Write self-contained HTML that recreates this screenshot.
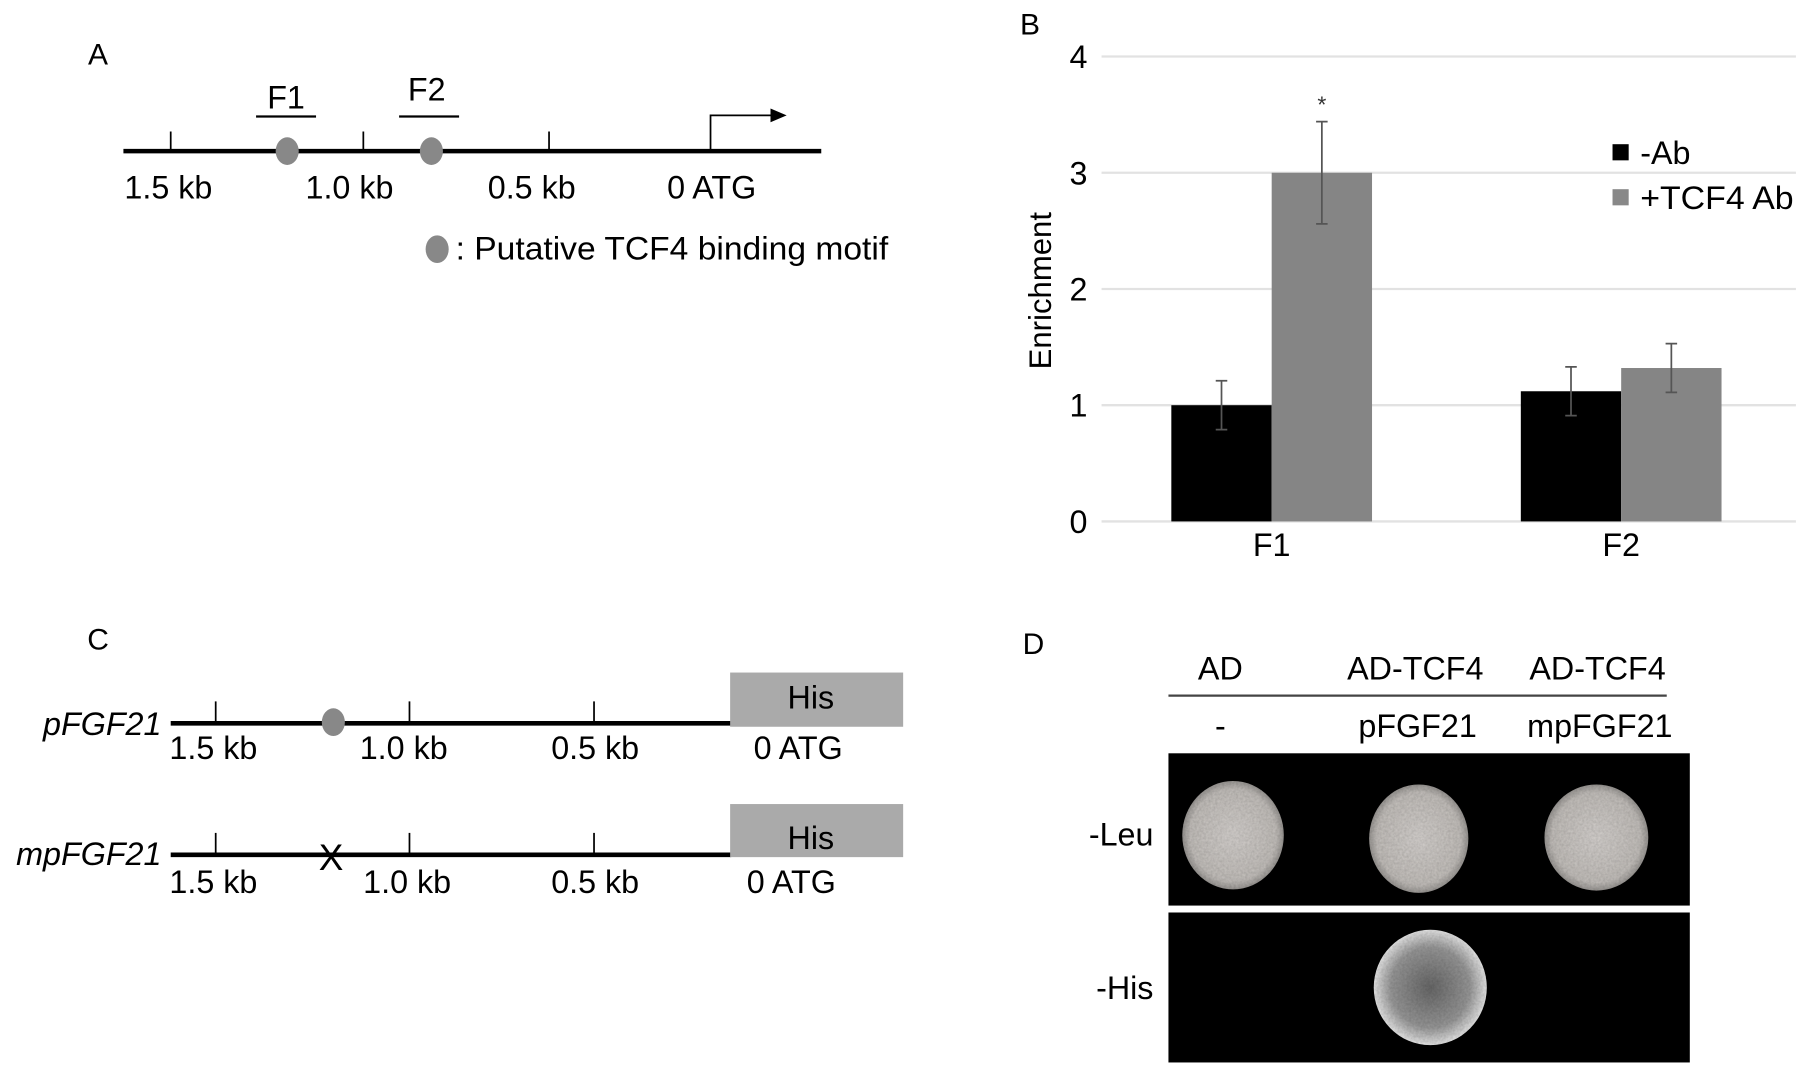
<!DOCTYPE html>
<html><head><meta charset="utf-8"><style>
html,body{margin:0;padding:0;background:#fff;}
svg{display:block;font-family:"Liberation Sans",Arial,sans-serif;}
</style></head><body>
<svg id="fig" width="1804" height="1074" viewBox="0 0 1564 931" preserveAspectRatio="none">
<defs>
<radialGradient id="colL" cx="50%" cy="50%" r="50%"><stop offset="0" stop-color="#d6d2cf"/><stop offset="0.85" stop-color="#c4c0bc"/><stop offset="1" stop-color="#9a9794"/></radialGradient>
<radialGradient id="colH" cx="50%" cy="50%" r="50%"><stop offset="0" stop-color="#6a6a6a"/><stop offset="0.7" stop-color="#9a9a9a"/><stop offset="1" stop-color="#e8e8e8"/></radialGradient>
<filter id="grain"><feTurbulence type="fractalNoise" baseFrequency="0.5" numOctaves="2" result="n"/><feColorMatrix in="n" type="matrix" values="0 0 0 0 0  0 0 0 0 0  0 0 0 0 0  0 0 0 0.35 0" result="d"/><feComposite in="d" in2="SourceGraphic" operator="in" result="dd"/><feMerge><feMergeNode in="SourceGraphic"/><feMergeNode in="dd"/></feMerge></filter>
</defs>

<!-- Panel A -->
<g>
<text x="85" y="56" font-size="26" text-anchor="middle">A</text>
<line x1="107" y1="131" x2="712" y2="131" stroke="#000" stroke-width="4"/>
<g stroke="#000" stroke-width="1.5">
<line x1="148" y1="114" x2="148" y2="131"/><line x1="315" y1="114" x2="315" y2="131"/><line x1="476" y1="114" x2="476" y2="131"/>
</g>
<path d="M616 131 V100 H672" fill="none" stroke="#000" stroke-width="1.5"/>
<polygon points="682,100 668,94 668,106" fill="#000"/>
<ellipse cx="249" cy="131" rx="10" ry="12" fill="#888"/>
<ellipse cx="374" cy="131" rx="10" ry="12" fill="#888"/>
<line x1="222" y1="101" x2="274" y2="101" stroke="#000" stroke-width="2"/>
<line x1="346" y1="101" x2="398" y2="101" stroke="#000" stroke-width="2"/>
<text x="248" y="94" font-size="28" text-anchor="middle">F1</text>
<text x="370" y="87" font-size="28" text-anchor="middle">F2</text>
<g font-size="28" text-anchor="middle">
<text x="146" y="172">1.5 kb</text><text x="303" y="172">1.0 kb</text><text x="461" y="172">0.5 kb</text><text x="617" y="172">0 ATG</text>
</g>
<ellipse cx="379" cy="216" rx="10" ry="12" fill="#888"/>
<text x="395" y="225" font-size="28" textLength="375" lengthAdjust="spacingAndGlyphs">: Putative TCF4 binding motif</text>
</g>

<!-- Panel B -->
<g id="chartB">
<text x="893" y="30" font-size="26" text-anchor="middle">B</text>
<text transform="translate(911,252) rotate(-90)" font-size="27" text-anchor="middle">Enrichment</text>
<g>
<rect x="1398" y="125" width="14" height="14" fill="#000"/><text x="1422" y="142" font-size="28">-Ab</text>
<rect x="1398" y="164" width="14" height="14" fill="#888"/><text x="1422" y="181" font-size="28" textLength="133" lengthAdjust="spacingAndGlyphs">+TCF4 Ab</text>
</g>
</g>

<!-- Panel C -->
<g>
<text x="85" y="563" font-size="26" text-anchor="middle">C</text>
<g>
<text x="140" y="637" font-size="28" font-style="italic" text-anchor="end">pFGF21</text>
<line x1="148" y1="627" x2="634" y2="627" stroke="#000" stroke-width="4"/>
<g stroke="#000" stroke-width="1.5"><line x1="187" y1="608" x2="187" y2="627"/><line x1="355" y1="608" x2="355" y2="627"/><line x1="515" y1="608" x2="515" y2="627"/></g>
<ellipse cx="289" cy="626" rx="10" ry="12" fill="#888"/>
<rect x="633" y="583" width="150" height="47" fill="#aaa"/>
<text x="703" y="614" font-size="28" text-anchor="middle">His</text>
<g font-size="28" text-anchor="middle"><text x="185" y="658">1.5 kb</text><text x="350" y="658">1.0 kb</text><text x="516" y="658">0.5 kb</text><text x="692" y="658">0 ATG</text></g>
</g>
<g>
<text x="140" y="750" font-size="28" font-style="italic" text-anchor="end">mpFGF21</text>
<line x1="148" y1="741" x2="634" y2="741" stroke="#000" stroke-width="4"/>
<g stroke="#000" stroke-width="1.5"><line x1="187" y1="722" x2="187" y2="741"/><line x1="355" y1="722" x2="355" y2="741"/><line x1="515" y1="722" x2="515" y2="741"/></g>
<text x="287" y="754" font-size="32" text-anchor="middle">X</text>
<rect x="633" y="697" width="150" height="46" fill="#aaa"/>
<text x="703" y="736" font-size="28" text-anchor="middle">His</text>
<g font-size="28" text-anchor="middle"><text x="185" y="774">1.5 kb</text><text x="353" y="774">1.0 kb</text><text x="516" y="774">0.5 kb</text><text x="686" y="774">0 ATG</text></g>
</g>
</g>

<!-- Panel D -->
<g>
<text x="896" y="567" font-size="26" text-anchor="middle">D</text>
<g font-size="28" text-anchor="middle">
<text x="1058" y="589">AD</text><text x="1227" y="589">AD-TCF4</text><text x="1385" y="589">AD-TCF4</text>
<text x="1058" y="639">-</text><text x="1229" y="639">pFGF21</text><text x="1387" y="639">mpFGF21</text>
</g>
<line x1="1013" y1="603" x2="1445" y2="603" stroke="#444" stroke-width="2"/>
<text x="1000" y="733" font-size="28" text-anchor="end">-Leu</text>
<text x="1000" y="866" font-size="28" text-anchor="end">-His</text>
<rect x="1013" y="653" width="452" height="132" fill="#000"/>
<rect x="1013" y="791" width="452" height="130" fill="#000"/>
<g filter="url(#grain)">
<ellipse cx="1069" cy="724" rx="44" ry="47" fill="url(#colL)"/>
<ellipse cx="1230" cy="727" rx="43" ry="47" fill="url(#colL)"/>
<ellipse cx="1384" cy="726" rx="45" ry="46" fill="url(#colL)"/>
<ellipse cx="1240" cy="856" rx="49" ry="50" fill="url(#colH)"/>
<ellipse cx="1087" cy="855" rx="44" ry="46" fill="#0b0b0b"/>
<ellipse cx="1396" cy="859" rx="45" ry="46" fill="#0b0b0b"/>
</g>
</g>

<script>
const categories = ["F1", "F2"];
const seriesNames = ["-Ab", "+TCF4 Ab"];
const valuesAb = [1.0, 1.12];
const valuesTcf4 = [3.0, 1.32];
const errAb = [0.21, 0.21];
const errTcf4 = [0.44, 0.21];
const yTicks = [0, 1, 2, 3, 4];
const sigMarks = ["*", ""];

const NS = "http://www.w3.org/2000/svg";
const g = document.getElementById("chartB");
const y0 = 452, yTop = 49, yMax = 4;
function yScale(v){ return y0 - (v / yMax) * (y0 - yTop); }
const gridLeft = 955, plotLeft = 951, plotRight = 1557;
const groupW = (plotRight - plotLeft) / categories.length;
const barW = 87;
function groupCenter(i){ return plotLeft + groupW * (i + 0.5); }
function mk(tag, attrs){ const e = document.createElementNS(NS, tag); for (const k in attrs) e.setAttribute(k, attrs[k]); g.appendChild(e); return e; }

yTicks.forEach(t => {
  const gl = mk("line", {x1: gridLeft, x2: plotRight, y1: yScale(t), y2: yScale(t), stroke: "#e2e2e2", "stroke-width": 2});
  
  
  const tl = mk("text", {x: 935, y: yScale(t) + 10, "font-size": 28, "text-anchor": "middle"});
  tl.textContent = t;
  
  
});

const series = [valuesAb, valuesTcf4];
const errs = [errAb, errTcf4];
const colors = ["#000", "#858585"];
categories.forEach((c, i) => {
  const cx = groupCenter(i);
  series.forEach((vals, s) => {
    const x = cx - barW + s * barW;
    const r = mk("rect", {x: x, y: yScale(vals[i]), width: barW, height: y0 - yScale(vals[i]), fill: colors[s]});
    
    
    const ex = x + barW / 2, hi = yScale(vals[i] + errs[s][i]), lo = yScale(vals[i] - errs[s][i]);
    const eb = mk("path", {d: `M${ex} ${hi}V${lo}M${ex-5} ${hi}H${ex+5}M${ex-5} ${lo}H${ex+5}`, stroke: "#555", "stroke-width": 1.5, fill: "none"});
    
    
  });
  if (sigMarks[i]) {
    const st = mk("text", {x: cx + barW / 2, y: yScale(valuesTcf4[i] + errTcf4[i]) - 8, "font-size": 20, "text-anchor": "middle", fill: "#333"});
    st.textContent = sigMarks[i];
    
    
  }
  const cl = mk("text", {x: cx, y: 482, "font-size": 28, "text-anchor": "middle"});
  cl.textContent = c;
  
  
});
</script>
</svg>
</body></html>
